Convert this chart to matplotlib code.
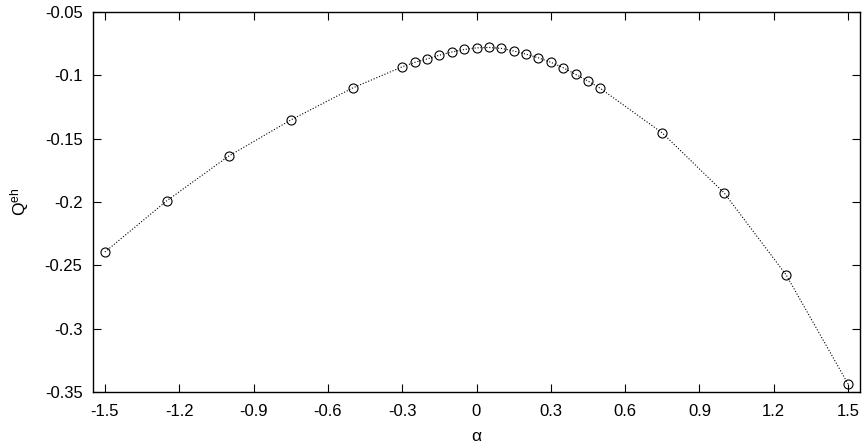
import numpy as np
import matplotlib
matplotlib.use("Agg")
import matplotlib.pyplot as plt

plt.rcParams['font.family'] = ['Liberation Sans', 'DejaVu Sans']
plt.rcParams['mathtext.fontset'] = 'custom'
plt.rcParams['mathtext.rm'] = 'Liberation Sans'
plt.rcParams['mathtext.it'] = 'Liberation Sans'

# alpha values and Q^eh
alpha = [-1.5, -1.25, -1.0, -0.75, -0.5,
         -0.3, -0.25, -0.2, -0.15, -0.1, -0.05, 0.0, 0.05, 0.1,
         0.15, 0.2, 0.25, 0.3, 0.35, 0.4, 0.45, 0.5,
         0.75, 1.0, 1.25, 1.5]
q_eh = [-0.2395, -0.1990, -0.1637, -0.1353, -0.1100,
        -0.0933, -0.0898, -0.0871, -0.0841, -0.0816, -0.0796, -0.0783, -0.0780, -0.0787,
        -0.0808, -0.0833, -0.0862, -0.0897, -0.0940, -0.0992, -0.1045, -0.1103,
        -0.1455, -0.1929, -0.2576, -0.3437]

xticks = [-1.5, -1.2, -0.9, -0.6, -0.3, 0, 0.3, 0.6, 0.9, 1.2, 1.5]
yticks = [-0.35, -0.3, -0.25, -0.2, -0.15, -0.1, -0.05]

fig = plt.figure(figsize=(8.65, 4.47), dpi=100)
ax = fig.add_axes([93 / 865, 55 / 447, 767 / 865, 380 / 447])

ax.plot(alpha, q_eh, color='black', linestyle=':', linewidth=0.8)
ax.plot(alpha, q_eh, linestyle='none', marker='o', markersize=6.5,
        markerfacecolor='none', markeredgecolor='black', markeredgewidth=0.8)

ax.set_xlim(-1.548, 1.548)
ax.set_ylim(-0.35, -0.05)
ax.set_xticks(xticks)
ax.set_xticklabels(['%g' % t for t in xticks])
ax.set_yticks(yticks)
ax.set_yticklabels(['%g' % t for t in yticks])
ax.tick_params(direction='in', length=6, width=0.8, top=True, right=True,
               labelsize=12)
ax.tick_params(axis='x', pad=9)
ax.tick_params(axis='y', pad=7.5)
for s in ax.spines.values():
    s.set_linewidth(1.0)

ax.set_xlabel('α', fontsize=12.5, labelpad=7)
ax.set_ylabel(r'Q$^{\mathregular{eh}}$', fontsize=12.5, labelpad=10)

plt.savefig('out.png', dpi=100)
